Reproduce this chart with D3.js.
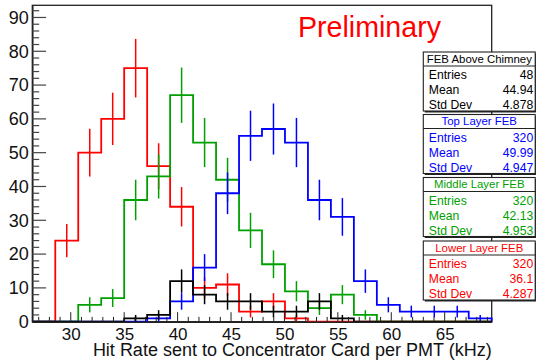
<!DOCTYPE html>
<html>
<head>
<meta charset="utf-8">
<script src="https://cdn.jsdelivr.net/npm/d3@7"></script>
<style>
  html, body { margin: 0; padding: 0; background: #fff; }
  svg { display: block; font-family: "Liberation Sans", Arial, Helvetica, sans-serif; }
</style>
</head>
<body>
<svg id="chart" width="536" height="363"></svg>
<script>
// Histogram binning (20 bins of hit rate, kHz)
const binLow = 26.4;
const binWidth = 2.15;
const nBins = 20;

// Bin contents per FEB group
const lowerLayer  = [0, 24, 50, 60, 75, 46, 34, 10, 11, 3, 6, 1, 0, 0, 0, 0, 0, 0, 0, 0];
const middleLayer = [0, 0, 5, 7, 36, 43, 67, 53, 42, 27, 17, 9, 4, 8, 2, 0, 0, 0, 0, 0];
const topLayer    = [0, 0, 0, 0, 0, 1, 6, 16, 38, 55, 57, 53, 36, 31, 12, 5, 3, 3, 3, 1];
const aboveChimney= [0, 0, 0, 0, 1, 2, 12, 8, 6, 6, 3, 3, 6, 1, 0, 0, 0, 0, 0, 0];

// Axis ticks
const xTicks = [30, 35, 40, 45, 50, 55, 60, 65];
const yTicks = [0, 10, 20, 30, 40, 50, 60, 70, 80, 90];

// Statistics boxes
const statTitles  = ["FEB Above Chimney", "Top Layer FEB", "Middle Layer FEB", "Lower Layer FEB"];
const statEntries = ["48", "320", "320", "320"];
const statMeans   = ["44.94", "49.99", "42.13", "36.1"];
const statStdDevs = ["4.878", "4.947", "4.953", "4.287"];

const xTitle = "Hit Rate sent to Concentrator Card per PMT (kHz)";
const stampText = "Preliminary";

const colors = { lower: "#ff0000", middle: "#00a000", top: "#0000ff", chimney: "#000000" };

const svg = d3.select("#chart");
const plot = { left: 32.3, right: 491.7, top: 5.3, bottom: 321.7 };

const x = d3.scaleLinear().domain([binLow, binLow + nBins * binWidth]).range([plot.left, plot.right]);
const y = d3.scaleLinear().domain([0, 93.6]).range([plot.bottom, plot.top]);

// Frame
svg.append("rect")
  .attr("x", plot.left).attr("y", plot.top)
  .attr("width", plot.right - plot.left).attr("height", plot.bottom - plot.top)
  .attr("fill", "none").attr("stroke", "#222").attr("stroke-width", 1.3);

// Histograms: step outline plus sqrt(N) error bars
function drawHist(values, color) {
  const g = svg.append("g");
  const pts = [[x(binLow), y(0)]];
  values.forEach((v, i) => {
    const lo = binLow + i * binWidth, hi = lo + binWidth;
    pts.push([x(lo), y(v)]);
    pts.push([x(hi), y(v)]);
  });
  pts.push([x(binLow + nBins * binWidth), y(0)]);
  g.append("path")
    .attr("d", d3.line()(pts))
    .attr("fill", "none").attr("stroke", color).attr("stroke-width", 1.8)
    .attr("stroke-linejoin", "miter");
  values.forEach((v, i) => {
    if (v <= 0) return;
    const c = binLow + (i + 0.5) * binWidth;
    const e = Math.sqrt(v);
    g.append("line")
      .attr("x1", x(c)).attr("x2", x(c))
      .attr("y1", y(v - e)).attr("y2", y(v + e))
      .attr("stroke", color).attr("stroke-width", 1.5);
  });
}
drawHist(lowerLayer, colors.lower);
drawHist(middleLayer, colors.middle);
drawHist(topLayer, colors.top);
drawHist(aboveChimney, colors.chimney);

// X axis
const xAxis = d3.axisBottom(x).tickValues(xTicks).tickSize(0).tickPadding(0).tickFormat(d3.format("d"));
const xg = svg.append("g").attr("transform", `translate(0,${plot.bottom})`).call(xAxis);
xg.select(".domain").attr("stroke", "#222").attr("stroke-width", 1.5);
xg.selectAll(".tick text")
  .attr("y", 18).attr("dy", 0)
  .attr("font-size", 17).attr("font-family", "Liberation Sans, Arial, sans-serif").attr("fill", "#111");
const xMinor = d3.range(27, 70, 1);
svg.append("g").selectAll("line").data(xMinor).join("line")
  .attr("x1", d => x(d)).attr("x2", d => x(d))
  .attr("y1", plot.bottom).attr("y2", d => plot.bottom - (d % 5 === 0 ? 9.5 : 4.8))
  .attr("stroke", "#222").attr("stroke-width", 1);

// Y axis
const yAxis = d3.axisLeft(y).tickValues(yTicks).tickSize(0).tickPadding(3.5).tickFormat(d3.format("d"));
const yg = svg.append("g").attr("transform", `translate(${plot.left},0)`).call(yAxis);
yg.select(".domain").attr("stroke", "#222").attr("stroke-width", 1.5);
yg.selectAll(".tick text")
  .attr("font-size", 18).attr("font-family", "Liberation Sans, Arial, sans-serif").attr("fill", "#111");
const yMinor = d3.range(2, 94, 2);
svg.append("g").selectAll("line").data(yMinor).join("line")
  .attr("x1", plot.left).attr("x2", d => plot.left + (d % 10 === 0 ? 13.8 : 6.9))
  .attr("y1", d => y(d)).attr("y2", d => y(d))
  .attr("stroke", "#444").attr("stroke-width", 1.2);

// Axis title
svg.append("text")
  .attr("x", plot.right).attr("y", 356)
  .attr("text-anchor", "end").attr("font-size", 18).attr("fill", "#111")
  .text(xTitle);

// Preliminary stamp
svg.append("text")
  .attr("x", 298).attr("y", 37)
  .attr("font-size", 28.6).attr("fill", "#ff0000")
  .text(stampText);

// Statistics boxes
const boxTops = [52, 114.5, 177.5, 241];
const boxColors = [colors.chimney, colors.top, colors.middle, colors.lower];
const boxL = 423.3, boxR = 535.2, boxH = 59;
statTitles.forEach((t, i) => {
  const T = boxTops[i];
  const g = svg.append("g");
  g.append("rect").attr("x", boxL + 1.5).attr("y", T + 1.5).attr("width", boxR - boxL).attr("height", boxH).attr("fill", "#222");
  g.append("rect").attr("x", boxL).attr("y", T).attr("width", boxR - boxL).attr("height", boxH)
    .attr("fill", "#fff").attr("stroke", "#222").attr("stroke-width", 1.1);
  g.append("line").attr("x1", boxL).attr("x2", boxR).attr("y1", T + 14).attr("y2", T + 14)
    .attr("stroke", "#222").attr("stroke-width", 1.1);
  const col = boxColors[i];
  g.append("text").attr("x", i === 0 ? boxL + 3.5 : (boxL + boxR) / 2).attr("y", T + 10.6)
    .attr("text-anchor", i === 0 ? "start" : "middle")
    .attr("font-size", 11.4).attr("fill", col).text(t);
  const rows = [["Entries", statEntries[i]], ["Mean", statMeans[i]], ["Std Dev", statStdDevs[i]]];
  rows.forEach((r, k) => {
    const yy = T + 27 + k * 15;
    g.append("text").attr("x", boxL + 5.5).attr("y", yy).attr("font-size", 12.2).attr("fill", col).text(r[0]);
    g.append("text").attr("x", boxR - 2).attr("y", yy).attr("text-anchor", "end").attr("font-size", 12.2).attr("fill", col).text(r[1]);
  });
});
</script>
</body>
</html>
